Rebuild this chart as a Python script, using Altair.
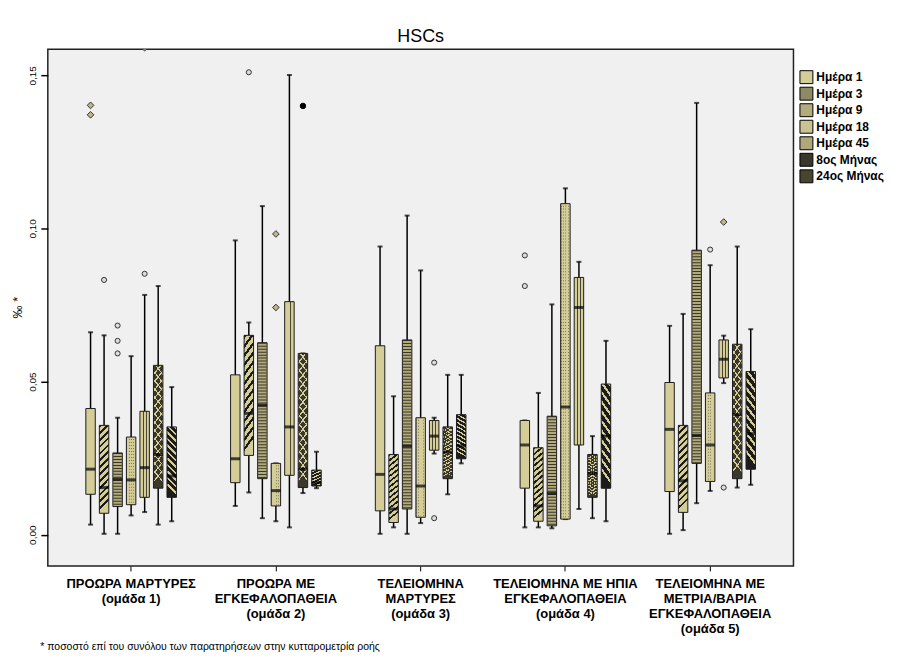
import altair as alt
import pandas as pd

groups = [
    "ΠΡΟΩΡΑ ΜΑΡΤΥΡΕΣ|(ομάδα 1)",
    "ΠΡΟΩΡΑ ΜΕ|ΕΓΚΕΦΑΛΟΠΑΘΕΙΑ|(ομάδα 2)",
    "ΤΕΛΕΙΟΜΗΝΑ|ΜΑΡΤΥΡΕΣ|(ομάδα 3)",
    "ΤΕΛΕΙΟΜΗΝΑ ΜΕ ΗΠΙΑ|ΕΓΚΕΦΑΛΟΠΑΘΕΙΑ|(ομάδα 4)",
    "ΤΕΛΕΙΟΜΗΝΑ ΜΕ|ΜΕΤΡΙΑ/ΒΑΡΙΑ|ΕΓΚΕΦΑΛΟΠΑΘΕΙΑ|(ομάδα 5)",
]
series = ["Ημέρα 1", "Ημέρα 3", "Ημέρα 9", "Ημέρα 18", "Ημέρα 45", "8ος Μήνας", "24ος Μήνας"]

# box statistics per group (rows) and series (columns)
lo = [
    [0.0033, 0.0003, 0.0003, 0.0063, 0.0074, 0.0033, 0.0044],
    [0.0094, 0.0138, 0.0054, 0.0044, 0.0024, 0.0136, 0.0152],
    [0.0003, 0.0024, 0.0003, 0.0038, 0.0265, 0.0132, 0.0233],
    [0.0024, 0.0024, 0.0021, 0.0051, 0.0084, 0.0054, 0.0044],
    [0.0003, 0.0015, 0.0103, 0.0143, 0.0495, 0.0154, 0.0163],
]
q1 = [
    [0.0132, 0.0070, 0.0092, 0.0098, 0.0122, 0.0152, 0.0122],
    [0.0170, 0.0259, 0.0183, 0.0094, 0.0194, 0.0154, 0.0159],
    [0.0078, 0.0040, 0.0084, 0.0057, 0.0276, 0.0183, 0.0248],
    [0.0152, 0.0044, 0.0029, 0.0051, 0.0293, 0.0122, 0.0152],
    [0.0141, 0.0073, 0.0233, 0.0174, 0.0512, 0.0183, 0.0214],
]
med = [
    [0.0214, 0.0154, 0.0181, 0.0179, 0.0219, 0.0262, 0.0192],
    [0.0248, 0.0396, 0.0423, 0.0144, 0.0352, 0.0214, 0.0170],
    [0.0197, 0.0084, 0.0289, 0.0159, 0.0322, 0.0270, 0.0290],
    [0.0293, 0.0094, 0.0135, 0.0417, 0.0742, 0.0200, 0.0322],
    [0.0344, 0.0176, 0.0324, 0.0293, 0.0573, 0.0392, 0.0330],
]
q3 = [
    [0.0412, 0.0357, 0.0267, 0.0319, 0.0403, 0.0553, 0.0352],
    [0.0522, 0.0651, 0.0627, 0.0233, 0.0761, 0.0592, 0.0211],
    [0.0617, 0.0262, 0.0636, 0.0382, 0.0373, 0.0352, 0.0392],
    [0.0373, 0.0284, 0.0387, 0.1081, 0.0840, 0.0262, 0.0492],
    [0.0497, 0.0357, 0.0929, 0.0463, 0.0636, 0.0622, 0.0533],
]
hi = [
    [0.0661, 0.0651, 0.0382, 0.0583, 0.0783, 0.0812, 0.0482],
    [0.0961, 0.0693, 0.1073, 0.0233, 0.1501, 0.0592, 0.0271],
    [0.0941, 0.0452, 0.1042, 0.0863, 0.0382, 0.0522, 0.0522],
    [0.0373, 0.0463, 0.0752, 0.1131, 0.0891, 0.0322, 0.0633],
    [0.0682, 0.0721, 0.1410, 0.0880, 0.0650, 0.0941, 0.0671],
]

# outliers: group index, series index, value, kind (o = outlier, d = extreme)
out_group = [0, 0, 0, 0, 0, 0, 0, 0, 1, 1, 1, 1, 2, 2, 3, 3, 4, 4, 4]
out_series = [0, 0, 1, 2, 2, 2, 4, 4, 1, 3, 3, 5, 4, 4, 0, 0, 3, 4, 4]
out_value = [0.1402, 0.1371, 0.0832, 0.0683, 0.0633, 0.0592, 0.0852, 0.1590,
             0.1510, 0.0982, 0.0742, 0.1400, 0.0562, 0.0054, 0.0912, 0.0812,
             0.0931, 0.1021, 0.0154]
out_kind = ["d", "d", "o", "o", "o", "o", "o", "d", "o", "d", "d", "o", "o", "o",
            "o", "o", "o", "d", "o"]

footnote = "* ποσοστό επί του συνόλου των παρατηρήσεων στην κυτταρομετρία ροής"

rows = []
for i, g in enumerate(groups):
    for j, s in enumerate(series):
        rows.append(dict(group=g, series=s, lo=lo[i][j], q1=q1[i][j], med=med[i][j],
                         q3=q3[i][j], hi=hi[i][j]))
df = pd.DataFrame(rows)
odf = pd.DataFrame(dict(group=[groups[i] for i in out_group],
                        series=[series[j] for j in out_series],
                        value=out_value, kind=out_kind))

FONT = "Liberation Sans"
KHAKI = "#d4cd98"
BLACK = "#1c1c1c"
CLEAR = "rgba(0,0,0,0)"
BW = 9.5

xdef = alt.X("group:N", sort=groups,
             scale=alt.Scale(domain=groups, paddingInner=0.159, paddingOuter=0.155),
             axis=alt.Axis(title=footnote, labelExpr="split(datum.label, '|')",
                           labelFont=FONT, labelFontSize=13, labelFontWeight="bold",
                           labelColor="black", labelLineHeight=15, labelPadding=7,
                           labelAngle=0, labelLimit=300, labelOverlap=False,
                           domain=False, ticks=True, tickSize=5, tickColor="black",
                           tickWidth=1, grid=False,
                           titleFont=FONT, titleFontSize=10.5, titleFontWeight="normal",
                           titleColor="black", titleX=-8, titleY=81, titleAnchor="start",
                           titleAlign="left", titleBaseline="middle", titleAngle=0))
xodef = alt.XOffset("series:N", sort=series,
                    scale=alt.Scale(domain=series, paddingInner=0, paddingOuter=1))
yscale = alt.Scale(domain=[-0.0102, 0.1585], nice=False, zero=False)
yaxis = alt.Axis(title="‰ *", values=[0, 0.05, 0.10, 0.15],
                 labelExpr="replace(format(datum.value, '.2f'), '.', ',')",
                 labelAngle=270, labelFont=FONT, labelFontSize=10, labelColor="black",
                 labelPadding=3, tickSize=7, tickWidth=1.5, tickColor="black",
                 domain=False, grid=False, titleAngle=270, titleFont=FONT,
                 titleFontSize=13, titleFontWeight="normal", titleColor="black",
                 titleX=-30, titleY=259, titleAlign="center", titleBaseline="middle")


def Y(field):
    return alt.Y(f"{field}:Q", scale=yscale, axis=yaxis)


def Y2(field):
    return alt.Y2(f"{field}:Q")


def stripes(n, frac, c_on, c_off, x1, y1, x2, y2):
    stops = []
    for k in range(n):
        a = k / n
        b = (k + frac) / n
        c = (k + 1) / n
        stops += [(a, c_on), (b, c_on), (b, c_off), (c, c_off)]
    return {"gradient": "linear", "x1": x1, "y1": y1, "x2": x2, "y2": y2,
            "stops": [{"offset": round(o, 5), "color": col} for o, col in stops]}


base = alt.Chart(df).encode(x=xdef, xOffset=xodef)


def only(name):
    return base.transform_filter(alt.datum.series == name)


whiskers = base.mark_rule(color="black", strokeWidth=1.5).encode(y=Y("lo"), y2=Y2("hi"))
cap_lo = base.mark_tick(color="black", thickness=2, size=5).encode(y=Y("lo"))
cap_hi = base.mark_tick(color="black", thickness=2, size=5).encode(y=Y("hi"))

legend_colors = [KHAKI, "#8f8a66", "#b2ab7c", "#c9c291", "#aea87c", "#3a382a", "#48452f"]
boxes = base.mark_bar(width=BW, strokeWidth=0).encode(
    y=Y("q1"), y2=Y2("q3"),
    color=alt.Color("series:N", sort=series,
                    scale=alt.Scale(domain=series, range=legend_colors),
                    legend=alt.Legend(title=None, orient="none", legendX=755, legendY=21,
                                      symbolType="square", symbolSize=169,
                                      symbolStrokeColor="black", symbolStrokeWidth=1,
                                      labelFont=FONT, labelFontSize=12,
                                      labelFontWeight="bold", labelColor="black",
                                      labelOffset=3, rowPadding=-1.4, padding=0)))

# patterns
p_d3 = only("Ημέρα 3").mark_bar(width=BW, strokeWidth=0,
                                 fill=stripes(13, 0.4, BLACK, KHAKI, 0, 0, 0.108, 1)
                                 ).encode(y=Y("q1"), y2=Y2("q3"))
p_d9 = only("Ημέρα 9").mark_rule(strokeWidth=8.5, strokeDash=[1, 2], color="#3a372a",
                                  strokeCap="butt").encode(y=Y("q3"), y2=Y2("q1"))
p_d18a = only("Ημέρα 18").mark_bar(width=BW, strokeWidth=0,
                                    fill=stripes(4, 0.35, "#7d7860", KHAKI, 0, 0, 1, 0)
                                    ).encode(y=Y("q1"), y2=Y2("q3"))
p_d18b = only("Ημέρα 18").mark_rule(strokeWidth=8.5, strokeDash=[2, 1], color=KHAKI,
                                     strokeCap="butt").encode(y=Y("q3"), y2=Y2("q1"))
g45 = {"gradient": "linear", "x1": 0, "y1": 0, "x2": 1, "y2": 0,
       "stops": [{"offset": 0, "color": KHAKI}, {"offset": 0.30, "color": KHAKI},
                 {"offset": 0.30, "color": "#4a4636"}, {"offset": 0.40, "color": "#4a4636"},
                 {"offset": 0.40, "color": KHAKI}, {"offset": 0.60, "color": KHAKI},
                 {"offset": 0.60, "color": "#4a4636"}, {"offset": 0.70, "color": "#4a4636"},
                 {"offset": 0.70, "color": KHAKI}, {"offset": 1, "color": KHAKI}]}
p_d45 = only("Ημέρα 45").mark_bar(width=BW, strokeWidth=0, fill=g45).encode(
    y=Y("q1"), y2=Y2("q3"))
p_m8a = only("8ος Μήνας").mark_bar(width=BW, strokeWidth=0,
                                    fill=stripes(15, 0.2, KHAKI, CLEAR, 0, 0, 0.095, 1)
                                    ).encode(y=Y("q1"), y2=Y2("q3"))
p_m8b = only("8ος Μήνας").mark_bar(width=BW, strokeWidth=0,
                                    fill=stripes(15, 0.2, KHAKI, CLEAR, 1, 0, 0.905, 1)
                                    ).encode(y=Y("q1"), y2=Y2("q3"))
p_m24 = only("24ος Μήνας").mark_bar(width=BW, strokeWidth=0,
                                     fill=stripes(11, 0.38, KHAKI, BLACK, 1, 0, 0.873, 1)
                                     ).encode(y=Y("q1"), y2=Y2("q3"))

outline = base.mark_bar(width=BW, filled=False, color="#1e1e1e", strokeWidth=1).encode(
    y=Y("q1"), y2=Y2("q3"))
medians = base.mark_tick(color="black", thickness=3, size=BW).encode(y=Y("med"))

obase = alt.Chart(odf).encode(x=xdef, xOffset=xodef, y=Y("value"))
o_circ = obase.transform_filter(
    "datum.kind == 'o' && datum.series != '8ος Μήνας'").mark_point(
    shape="circle", size=26, fill="#dcdcdc", stroke="#333333", strokeWidth=1,
    opacity=1, fillOpacity=1)
o_black = obase.transform_filter(
    "datum.kind == 'o' && datum.series == '8ος Μήνας'").mark_point(
    shape="circle", size=30, fill="black", stroke="black", strokeWidth=1,
    opacity=1, fillOpacity=1)
o_diam = obase.transform_filter("datum.kind == 'd'").mark_point(
    shape="diamond", size=45, fill="#bcb684", stroke="#333333", strokeWidth=1,
    opacity=1, fillOpacity=1, clip=True)

chart = alt.layer(
    whiskers, cap_lo, cap_hi, boxes,
    p_d3, p_d9, p_d18a, p_d18b, p_d45, p_m8a, p_m8b, p_m24,
    outline, medians, o_circ, o_black, o_diam,
).properties(
    width=749, height=519,
    title=alt.TitleParams("HSCs", fontSize=18, font=FONT, fontWeight="normal",
                          color="black", offset=3, anchor="middle"),
    padding={"left": 40, "top": 40, "right": 105, "bottom": 95},
    autosize=alt.AutoSizeParams(type="none"),
    view=alt.ViewBackground(stroke="#202020", strokeWidth=1.5, fill="#f0f0f0",
                            strokeOpacity=1),
).configure_view(
    stroke="#202020", strokeWidth=1.5, fill="#f0f0f0"
).configure(background="white")

chart.save("out.html", embed_options={"renderer": "svg", "actions": False})
